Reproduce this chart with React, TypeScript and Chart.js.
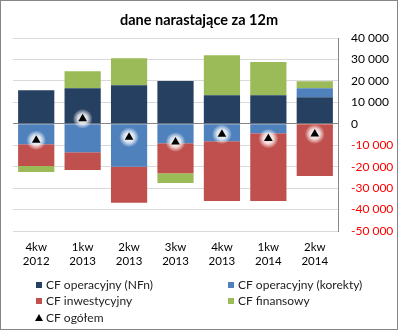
import React, { useEffect, useRef } from "react";
import { Chart, registerables } from "chart.js";

Chart.register(...registerables);

const categories: string[][] = [
  ["4kw", "2012"],
  ["1kw", "2013"],
  ["2kw", "2013"],
  ["3kw", "2013"],
  ["4kw", "2013"],
  ["1kw", "2014"],
  ["2kw", "2014"],
];
const cfOperNFn = [15600, 16600, 18000, 20000, 13300, 13300, 12400];
const cfOperKorekty = [-9500, -13300, -20000, -9100, -8200, -4400, 4200];
const cfInwest = [-10200, -8200, -16800, -14000, -27800, -31600, -24300];
const cfFinans = [-2800, 7900, 12500, -4500, 18700, 15500, 3200];
const cfOgolem = [-7700, 2300, -6300, -8500, -4900, -6900, -4800];

const labels = [
  "CF operacyjny (NFn)",
  "CF operacyjny (korekty)",
  "CF inwestycyjny",
  "CF finansowy",
  "CF ogółem",
];
const title = "dane narastające za 12m";

const FONT = "Lato, 'Open Sans', sans-serif";
const colors = ["#254061", "#4F81BD", "#C0504D", "#9BBB59", "#000000"];

function fmt(v: number): string {
  const s = Math.abs(v).toString().replace(/\B(?=(\d{3})+(?!\d))/g, " ");
  return (v < 0 ? "-" : "") + s;
}

const deco = {
  id: "deco",
  beforeDatasetDraw(chart: any, args: any) {
    if (args.index !== 4) return;
    const ctx = chart.ctx;
    ctx.save();
    for (const el of args.meta.data) {
      const g = ctx.createRadialGradient(el.x, el.y, 0, el.x, el.y, 10);
      g.addColorStop(0, "rgba(255,255,255,0.95)");
      g.addColorStop(0.5, "rgba(255,255,255,0.8)");
      g.addColorStop(1, "rgba(255,255,255,0)");
      ctx.fillStyle = g;
      ctx.beginPath();
      ctx.arc(el.x, el.y, 10, 0, Math.PI * 2);
      ctx.fill();
    }
    ctx.restore();
  },
  afterDraw(chart: any) {
    const ctx = chart.ctx;
    ctx.save();
    // border
    ctx.strokeStyle = "#868686";
    ctx.lineWidth = 1;
    ctx.strokeRect(0.5, 0.5, chart.width - 1, chart.height - 1);
    // title
    ctx.fillStyle = "#000";
    ctx.font = `bold 14.5px ${FONT}`;
    ctx.textAlign = "center";
    ctx.textBaseline = "middle";
    ctx.fillText(title, 199, 20);
    // legend
    ctx.font = `12px ${FONT}`;
    ctx.textAlign = "left";
    const pos = [
      [36, 285, 46],
      [228, 285, 238],
      [36, 301, 46],
      [228, 301, 238],
      [36, 318, 46],
    ];
    labels.forEach((lab, i) => {
      const [x, y, tx] = pos[i];
      ctx.fillStyle = colors[i];
      if (i === 4) {
        ctx.beginPath();
        ctx.moveTo(x + 3, y - 4);
        ctx.lineTo(x + 7, y + 3);
        ctx.lineTo(x - 1, y + 3);
        ctx.closePath();
        ctx.fill();
      } else {
        ctx.fillRect(x, y - 3, 6, 6);
      }
      ctx.fillStyle = "#222";
      ctx.fillText(lab, tx, y);
    });
    ctx.restore();
  },
};

export default function App() {
  const ref = useRef<HTMLCanvasElement>(null);
  useEffect(() => {
    document.body.style.margin = "0";
    const chart = new Chart(ref.current!, {
      type: "bar",
      data: {
        labels: categories,
        datasets: [
          { label: labels[0], data: cfOperNFn, backgroundColor: colors[0], stack: "s" },
          { label: labels[1], data: cfOperKorekty, backgroundColor: colors[1], stack: "s" },
          { label: labels[2], data: cfInwest, backgroundColor: colors[2], stack: "s" },
          { label: labels[3], data: cfFinans, backgroundColor: colors[3], stack: "s" },
          {
            type: "line",
            label: labels[4],
            data: cfOgolem,
            stack: "t",
            order: -1,
            showLine: false,
            pointStyle: "triangle",
            pointRadius: 5,
            pointBackgroundColor: "#000",
            pointBorderColor: "#000",
            pointBorderWidth: 0,
          } as any,
        ],
      },
      options: {
        animation: false,
        responsive: false,
        maintainAspectRatio: false,
        datasets: { bar: { barPercentage: 0.78, categoryPercentage: 1 } },
        layout: { padding: { top: 38, left: 13, right: 5, bottom: 59 } },
        plugins: {
          legend: { display: false },
          title: { display: false },
          tooltip: { enabled: false },
        },
        scales: {
          x: {
            stacked: true,
            grid: { display: false, drawTicks: false },
            border: { display: false },
            ticks: {
              padding: 9,
              color: "#000",
              font: { family: FONT, size: 11.5, lineHeight: 1.22 },
              maxRotation: 0,
              autoSkip: false,
            },
            afterFit: (s: any) => {
              s.height = 40;
            },
          },
          y: {
            stacked: true,
            position: "right",
            min: -50000,
            max: 40000,
            grid: {
              drawTicks: false,
              color: (c: any) => (c.tick && c.tick.value === 0 ? "#868686" : "#D9D9D9"),
            },
            border: { display: true, color: "#868686" },
            ticks: {
              stepSize: 10000,
              padding: 13,
              color: (c: any) => (c.tick && c.tick.value < 0 ? "#FF0000" : "#000"),
              font: { family: FONT, size: 12 },
              callback: (v: any) => fmt(Number(v)),
            },
            afterFit: (s: any) => {
              s.width = 55;
            },
          },
        },
      },
      plugins: [deco],
    });
    return () => chart.destroy();
  }, []);
  return (
    <div style={{ width: 398, height: 330 }}>
      <canvas ref={ref} width={398} height={330} style={{ width: 398, height: 330, display: "block" }} />
    </div>
  );
}
